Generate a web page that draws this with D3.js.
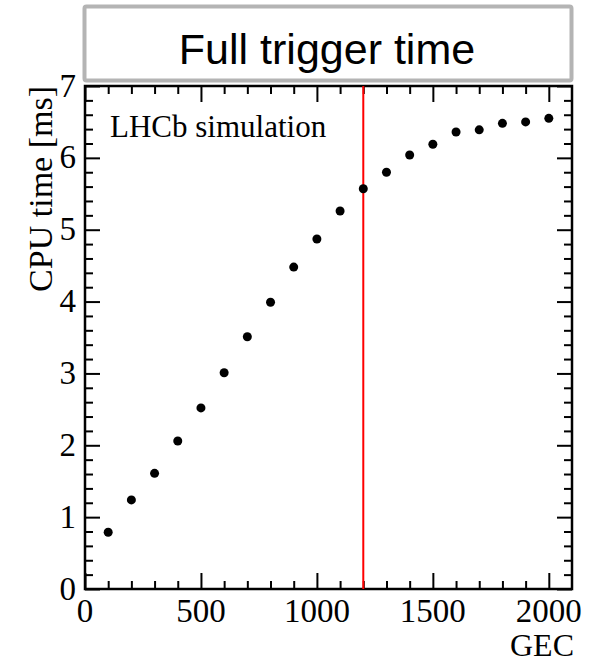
<!DOCTYPE html>
<html lang="en">
<head>
  <meta charset="UTF-8">
  <title>Full trigger time</title>
  <style>
    body { margin: 0; background: #fff; }
    svg text { font-family: "Liberation Serif", "Times New Roman", serif; }
  </style>
</head>
<body>
<div id="chart"></div>
<script src="https://d3js.org/d3.v7.min.js"></script>
<script>
  // GEC cut values and the measured CPU time per event
  var gecValues = [100, 200, 300, 400, 500, 600, 700, 800, 900, 1000,
                   1100, 1200, 1300, 1400, 1500, 1600, 1700, 1800, 1900, 2000];
  var cpuTimes = [0.79, 1.24, 1.61, 2.06, 2.52, 3.01, 3.51, 3.99, 4.48, 4.87,
                  5.26, 5.57, 5.80, 6.04, 6.19, 6.36, 6.39, 6.48, 6.50, 6.55];
  var xTicks = [0, 500, 1000, 1500, 2000];
  var yTicks = [0, 1, 2, 3, 4, 5, 6, 7];
  var cutValue = 1200;

  var width = 594, height = 663;
  var margin = { top: 86, right: 22, bottom: 74, left: 85 };
  var w = width - margin.left - margin.right;
  var h = height - margin.top - margin.bottom;

  var svg = d3.select('#chart').append('svg')
    .attr('width', width)
    .attr('height', height);

  // title box
  svg.append('rect')
    .attr('x', 84.5).attr('y', 6.5)
    .attr('width', 487).attr('height', 74)
    .attr('rx', 2)
    .attr('fill', '#fff')
    .attr('stroke', '#b4b4b4')
    .attr('stroke-width', 4);

  svg.append('text')
    .attr('x', 327).attr('y', 64)
    .attr('text-anchor', 'middle')
    .style('font-family', '"Liberation Sans", Arial, sans-serif')
    .style('font-size', '43px')
    .text('Full trigger time');

  var g = svg.append('g')
    .attr('transform', 'translate(' + margin.left + ',' + margin.top + ')');

  var x = d3.scaleLinear().domain([0, 2100]).range([0, w]);
  var y = d3.scaleLinear().domain([0, 7]).range([h, 0]);

  var xMinor = d3.range(0, 2100, 100).filter(function(v) { return v % 500 !== 0; });
  var yMinor = d3.range(0, 7.01, 0.2).filter(function(v) { return Math.abs(v - Math.round(v)) > 0.01; });

  function tickAxis(axis, ticks, size) {
    return axis.tickValues(ticks).tickSizeInner(size).tickSizeOuter(0).tickFormat('');
  }

  // ticks pointing inward on all four sides
  g.append('g').attr('class', 'ax').attr('transform', 'translate(0,' + h + ')')
    .call(tickAxis(d3.axisTop(x), xTicks, 16));
  g.append('g').attr('class', 'ax').attr('transform', 'translate(0,' + h + ')')
    .call(tickAxis(d3.axisTop(x), xMinor, 8));
  g.append('g').attr('class', 'ax')
    .call(tickAxis(d3.axisBottom(x), xTicks, 16));
  g.append('g').attr('class', 'ax')
    .call(tickAxis(d3.axisBottom(x), xMinor, 8));
  g.append('g').attr('class', 'ax')
    .call(tickAxis(d3.axisRight(y), yTicks, 15));
  g.append('g').attr('class', 'ax')
    .call(tickAxis(d3.axisRight(y), yMinor, 8));
  g.append('g').attr('class', 'ax').attr('transform', 'translate(' + w + ',0)')
    .call(tickAxis(d3.axisLeft(y), yTicks, 15));
  g.append('g').attr('class', 'ax').attr('transform', 'translate(' + w + ',0)')
    .call(tickAxis(d3.axisLeft(y), yMinor, 8));

  g.selectAll('.ax path').remove();
  g.selectAll('.ax line').attr('stroke', '#000').attr('stroke-width', 2);

  // frame
  g.append('rect')
    .attr('width', w).attr('height', h)
    .attr('fill', 'none')
    .attr('stroke', '#000')
    .attr('stroke-width', 2.5);

  // tick labels
  g.selectAll('.xlab').data(xTicks).enter().append('text')
    .attr('x', function(d) { return x(d); })
    .attr('y', h + 33)
    .attr('text-anchor', 'middle')
    .style('font-size', '33px')
    .text(function(d) { return d; });

  g.selectAll('.ylab').data(yTicks).enter().append('text')
    .attr('x', -9)
    .attr('y', function(d) { return y(d) + 10.5; })
    .attr('text-anchor', 'end')
    .style('font-size', '33px')
    .text(function(d) { return d; });

  // axis titles
  svg.append('text')
    .attr('x', 574).attr('y', 656)
    .attr('text-anchor', 'end')
    .style('font-size', '32px')
    .text('GEC');

  svg.append('text')
    .attr('transform', 'translate(52,' + margin.top + ') rotate(-90)')
    .attr('text-anchor', 'end')
    .style('font-size', '34px')
    .text('CPU time [ms]');

  g.append('text')
    .attr('x', 25).attr('y', 51)
    .style('font-size', '31px')
    .text('LHCb simulation');

  // cut line
  g.append('line')
    .attr('x1', x(cutValue)).attr('x2', x(cutValue))
    .attr('y1', 0).attr('y2', h)
    .attr('stroke', '#ff0000')
    .attr('stroke-width', 2);

  // points
  g.selectAll('.pt').data(gecValues).enter().append('circle')
    .attr('cx', function(d) { return x(d); })
    .attr('cy', function(d, i) { return y(cpuTimes[i]); })
    .attr('r', 4.5)
    .attr('fill', '#000');
</script>
</body>
</html>
